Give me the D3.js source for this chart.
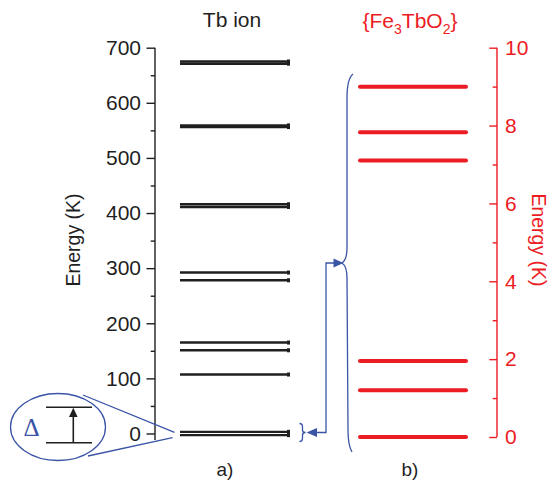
<!DOCTYPE html>
<html>
<head>
<meta charset="utf-8">
<script src="https://cdn.jsdelivr.net/npm/d3@7/dist/d3.min.js"></script>
<style>
html,body{margin:0;padding:0;background:#fff;}
svg{display:block;font-family:"Liberation Sans",Arial,Helvetica,sans-serif;}
</style>
</head>
<body>
<svg id="chart" width="552" height="483"></svg>
<script>
// ---- data ----
const tbLevels = [-3, 3, 107, 151, 165, 278, 292, 411, 416, 556, 559, 671, 675];   // K
const clusterLevels = [0, 1.2, 1.95, 7.1, 7.83, 9.0];                                // K
const leftTicks = [0, 100, 200, 300, 400, 500, 600, 700];
const leftMinor = [50, 150, 250, 350, 450, 550, 650];
const rightTicks = [0, 2, 4, 6, 8, 10];
const rightMinor = [1, 3, 5, 7, 9];
const panelLabels = ["a)", "b)"];

const BLACK = "#1f1f1f", RED = "#ec1c24", BLUE = "#3a54a6";
const svg = d3.select("#chart");

// ---- scales ----
const yL = d3.scaleLinear().domain([0, 700]).range([433.5, 47.7]);
const yR = d3.scaleLinear().domain([0, 10]).range([437, 47.7]);
const xA = d3.scaleLinear().domain([0, 1]).range([180, 290]);
const xB = d3.scaleLinear().domain([0, 1]).range([360, 466]);

// ---- left axis ----
const gL = svg.append("g").attr("transform", "translate(155,0)");
gL.append("line").attr("x1", 0).attr("x2", 0).attr("y1", yL(700)).attr("y2", yL(-12))
  .attr("stroke", BLACK).attr("stroke-width", 1.4);
gL.call(d3.axisLeft(yL).tickValues(leftTicks).tickSizeInner(8.5).tickSizeOuter(0).tickPadding(5.5))
  .call(g => g.select(".domain").remove())
  .call(g => g.selectAll(".tick line").attr("stroke", BLACK).attr("stroke-width", 1.4))
  .call(g => g.selectAll(".tick text").attr("fill", BLACK).attr("font-size", 21)
        .attr("font-family", "Liberation Sans, Arial, sans-serif"));
gL.append("g").call(d3.axisLeft(yL).tickValues(leftMinor).tickSizeInner(4.3).tickSizeOuter(0).tickFormat(""))
  .call(g => g.select(".domain").remove())
  .call(g => g.selectAll(".tick line").attr("stroke", BLACK).attr("stroke-width", 1.4));

// ---- right axis ----
const gR = svg.append("g").attr("transform", "translate(497,0)");
gR.append("line").attr("x1", 0).attr("x2", 0).attr("y1", yR(10)).attr("y2", yR(0))
  .attr("stroke", RED).attr("stroke-width", 1.4);
gR.call(d3.axisRight(yR).tickValues(rightTicks).tickSizeInner(-7.7).tickSizeOuter(0).tickPadding(8))
  .call(g => g.select(".domain").remove())
  .call(g => g.selectAll(".tick line").attr("stroke", RED).attr("stroke-width", 1.4))
  .call(g => g.selectAll(".tick text").attr("fill", RED).attr("font-size", 21)
        .attr("font-family", "Liberation Sans, Arial, sans-serif"));
gR.append("g").call(d3.axisRight(yR).tickValues(rightMinor).tickSizeInner(-4.3).tickSizeOuter(0).tickFormat(""))
  .call(g => g.select(".domain").remove())
  .call(g => g.selectAll(".tick line").attr("stroke", RED).attr("stroke-width", 1.4));

// ---- axis titles ----
svg.append("text").attr("transform", `translate(80,240) rotate(-90)`)
  .attr("text-anchor", "middle").attr("font-size", 19.5).attr("fill", BLACK).text("Energy (K)");
svg.append("text").attr("transform", `translate(532,240) rotate(90)`)
  .attr("text-anchor", "middle").attr("font-size", 19.5).attr("fill", RED).text("Energy (K)");

// ---- titles ----
svg.append("text").attr("x", 232).attr("y", 27).attr("text-anchor", "middle")
  .attr("font-size", 21).attr("fill", BLACK).text("Tb ion");
const t2 = svg.append("text").attr("x", 410).attr("y", 28).attr("text-anchor", "middle")
  .attr("font-size", 21).attr("fill", RED);
t2.append("tspan").text("{Fe");
t2.append("tspan").attr("font-size", 14).attr("dy", 6).text("3");
t2.append("tspan").attr("dy", -6).text("TbO");
t2.append("tspan").attr("font-size", 14).attr("dy", 6).text("2");
t2.append("tspan").attr("dy", -6).text("}");

// ---- panel labels ----
svg.selectAll("text.panel").data(panelLabels).join("text").attr("class", "panel")
  .attr("x", (d, i) => i === 0 ? 225 : 410).attr("y", 476)
  .attr("text-anchor", "middle").attr("font-size", 19).attr("fill", BLACK).text(d => d);

// ---- Tb ion levels ----
svg.append("g").selectAll("line").data(tbLevels).join("line")
  .attr("x1", xA(0)).attr("x2", xA(1))
  .attr("y1", d => yL(d)).attr("y2", d => yL(d))
  .attr("stroke", BLACK).attr("stroke-width", 2.4);
svg.append("g").selectAll("rect").data(tbLevels).join("rect")
  .attr("x", xA(1) - 3).attr("y", d => yL(d) - 2).attr("width", 3).attr("height", 4)
  .attr("fill", BLACK);

// ---- cluster levels ----
svg.append("g").selectAll("line").data(clusterLevels).join("line")
  .attr("x1", xB(0)).attr("x2", xB(1))
  .attr("y1", d => yR(d)).attr("y2", d => yR(d))
  .attr("stroke", RED).attr("stroke-width", 4).attr("stroke-linecap", "round");

// ---- annotations (blue) ----
const ann = svg.append("g").attr("fill", "none").attr("stroke", BLUE).attr("stroke-width", 1.3);
// big brace
ann.append("path").attr("d",
  "M353,74 C348,78 347,86 347,98 L347,248 C347,258 345,261 342,263 C345,265 347,268 347,278 L348,430 C348,442 349,447 352,452");
// small brace
ann.append("path").attr("d",
  "M299.5,423.5 C302,423.5 302.5,425 302.5,427 L302.5,430 C302.5,431.5 303.5,432.5 305.5,432.5 C303.5,432.5 302.5,433.5 302.5,435 L302.5,438.5 C302.5,440.5 302,441.5 299.5,441.5");
// connector
ann.append("path").attr("d", "M316,432.5 L326,432.5 L326,263 L335,263");
svg.append("path").attr("d", "M306.5,432.5 L317,428 L317,437 Z").attr("fill", BLUE);
svg.append("path").attr("d", "M343.5,263 L333.5,258.5 L333.5,267.5 Z").attr("fill", BLUE);
// ellipse and zoom lines
ann.append("ellipse").attr("cx", 58).attr("cy", 427).attr("rx", 47.5).attr("ry", 33.5);
ann.append("line").attr("x1", 83).attr("y1", 395).attr("x2", 174.5).attr("y2", 432.3);
ann.append("line").attr("x1", 88).attr("y1", 456).attr("x2", 172.5).attr("y2", 437.7);
svg.append("text").attr("x", 31.5).attr("y", 435.5).attr("text-anchor", "middle")
  .attr("font-family", "Liberation Serif, Times New Roman, serif").attr("font-size", 25)
  .attr("fill", BLUE).text("Δ");
// inset doublet
const inset = svg.append("g").attr("stroke", BLACK).attr("stroke-width", 1.6);
inset.append("line").attr("x1", 46).attr("x2", 92).attr("y1", 407.3).attr("y2", 407.3);
inset.append("line").attr("x1", 46).attr("x2", 92).attr("y1", 442.7).attr("y2", 442.7);
inset.append("line").attr("x1", 73.3).attr("x2", 73.3).attr("y1", 442.7).attr("y2", 415);
svg.append("path").attr("d", "M73.3,407.8 L69,417 L77.6,417 Z").attr("fill", BLACK);
</script>
</body>
</html>
